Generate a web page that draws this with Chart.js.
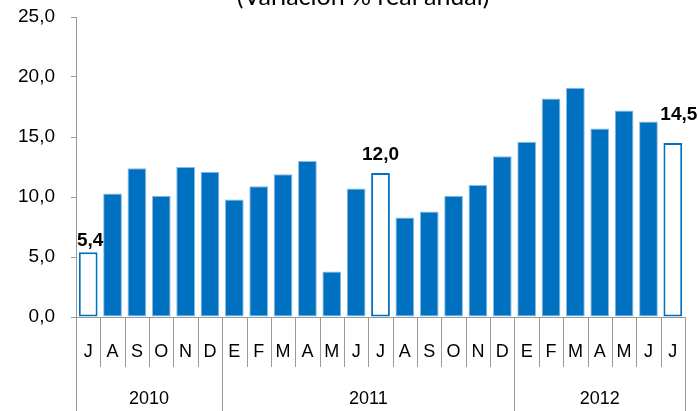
<!DOCTYPE html>
<html>
<head>
<meta charset="utf-8">
<script src="https://cdn.jsdelivr.net/npm/chart.js@4.4.1/dist/chart.umd.min.js"></script>
<style>
  html, body { margin: 0; padding: 0; background: #fff; }
  canvas { display: block; }
</style>
</head>
<body>
<canvas id="c" width="699" height="411"></canvas>
<script>
const months = ['J','A','S','O','N','D','E','F','M','A','M','J','J','A','S','O','N','D','E','F','M','A','M','J','J'];
const years = ['2010','2011','2012'];
const monthsPerYear = [6, 12, 7];
const values = [5.4,10.3,12.4,10.1,12.5,12.1,9.8,10.9,11.9,13.0,3.8,10.7,12.0,8.3,8.8,10.1,11.0,13.4,14.6,18.2,19.1,15.7,17.2,16.3,14.5];
const labeledIdx = [0, 12, 24];
const yTicks = [0, 5, 10, 15, 20, 25];
const titleText = '(Variación % real anual)';

const BLUE = '#0070C0';
const GRAY = '#9a9a9a';
const FONT = '"Liberation Sans", Arial, sans-serif';
const fmt = v => v.toFixed(1).replace('.', ',');

const isHollow = i => labeledIdx.includes(i);

const labelOffsets = { 0: [2, 6], 12: [0, 13], 24: [6, 23] };

const decor = {
  id: 'decor',
  afterDraw(chart) {
    const ctx = chart.ctx;
    const ca = chart.chartArea;
    const n = months.length;
    const w = (ca.right - ca.left) / n;
    ctx.save();
    // title (sized to span the same width as in the reference)
    ctx.fillStyle = '#000';
    ctx.font = '20px Lato, ' + FONT;
    const tw = ctx.measureText(titleText).width;
    const size = 20 * 253 / tw;
    ctx.font = size.toFixed(1) + 'px Lato, ' + FONT;
    ctx.textAlign = 'center';
    ctx.textBaseline = 'alphabetic';
    ctx.fillText(titleText, 363, 5);

    // separators
    const yearBounds = [0];
    monthsPerYear.reduce((a, b) => { yearBounds.push(a + b); return a + b; }, 0);
    ctx.strokeStyle = GRAY;
    ctx.lineWidth = 1;
    for (let i = 0; i <= n; i++) {
      const x = Math.round(ca.left + i * w) + 0.5;
      const long = yearBounds.includes(i);
      ctx.beginPath();
      ctx.moveTo(x, ca.bottom);
      ctx.lineTo(x, long ? 411 : 367);
      ctx.stroke();
    }
    // month labels
    ctx.fillStyle = '#000';
    ctx.font = '18px ' + FONT;
    ctx.textAlign = 'center';
    ctx.textBaseline = 'middle';
    const xs = chart.scales.x;
    months.forEach((m, i) => {
      ctx.fillText(m, xs.getPixelForValue(i), 352);
    });
    // year labels
    let start = 0;
    years.forEach((y, k) => {
      const end = start + monthsPerYear[k];
      const cx = ca.left + (start + end) / 2 * w;
      ctx.fillText(y, cx, 399);
      start = end;
    });
    // data labels
    const meta = chart.getDatasetMeta(0);
    ctx.font = 'bold 19px ' + FONT;
    ctx.textBaseline = 'alphabetic';
    labeledIdx.forEach(i => {
      const el = meta.data[i];
      const off = labelOffsets[i] || [0, 8];
      ctx.fillText(fmt(values[i]), el.x + off[0], el.y - off[1]);
    });
    ctx.restore();
  }
};

new Chart(document.getElementById('c'), {
  type: 'bar',
  data: {
    labels: months,
    datasets: [{
      data: values,
      backgroundColor: values.map((v, i) => isHollow(i) ? '#ffffff' : BLUE),
      borderColor: values.map((v, i) => isHollow(i) ? BLUE : '#8fbbe3'),
      borderWidth: values.map((v, i) => isHollow(i) ? 2 : 1),
      borderSkipped: false,
      barPercentage: 0.77,
      categoryPercentage: 1.0
    }]
  },
  options: {
    responsive: false,
    devicePixelRatio: 1,
    animation: false,
    layout: { padding: { top: 17, right: 14, left: 0, bottom: 0 } },
    plugins: {
      legend: { display: false },
      title: { display: false },
      tooltip: { enabled: false }
    },
    scales: {
      x: {
        offset: true,
        grid: { display: false },
        ticks: { display: false },
        border: { display: true, color: GRAY },
        afterFit(s) { s.height = 94; s.paddingLeft = 0; s.paddingRight = 0; }
      },
      y: {
        min: 0,
        max: 25,
        afterBuildTicks(s) { s.ticks = yTicks.map(v => ({ value: v })); },
        ticks: {
          callback: v => fmt(v),
          color: '#000',
          font: { size: 19, family: FONT },
          padding: 16
        },
        grid: { drawOnChartArea: false, drawTicks: true, tickLength: 5, color: GRAY },
        border: { display: true, color: GRAY },
        afterFit(s) { s.width = 76; s.paddingTop = 0; s.paddingBottom = 0; }
      }
    }
  },
  plugins: [decor]
});
</script>
</body>
</html>
